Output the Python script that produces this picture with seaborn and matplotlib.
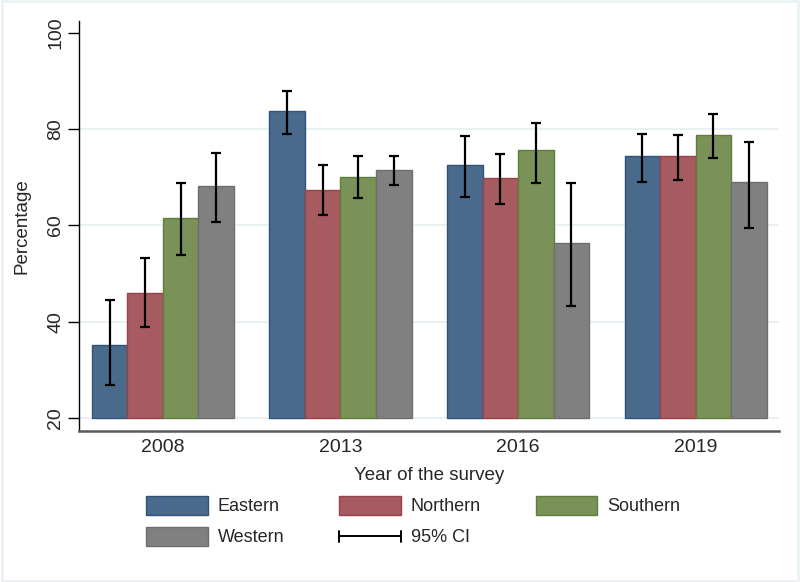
import numpy as np
import pandas as pd
import matplotlib
matplotlib.use("Agg")
import matplotlib.pyplot as plt
import seaborn as sns
from matplotlib.patches import Patch
from matplotlib.lines import Line2D
from matplotlib.legend_handler import HandlerBase

years = ["2008", "2013", "2016", "2019"]
regions = ["Eastern", "Northern", "Southern", "Western"]
pct = {
    "Eastern":  [35.2, 83.8, 72.6, 74.3],
    "Northern": [45.9, 67.4, 69.8, 74.5],
    "Southern": [61.6, 70.1, 75.6, 78.8],
    "Western":  [68.2, 71.4, 56.3, 69.0],
}
ci_low = {
    "Eastern":  [26.9, 78.9, 65.8, 69.1],
    "Northern": [39.0, 62.1, 64.4, 69.5],
    "Southern": [53.9, 65.7, 68.9, 73.9],
    "Western":  [60.7, 68.4, 43.3, 59.4],
}
ci_high = {
    "Eastern":  [44.6, 87.9, 78.6, 79.0],
    "Northern": [53.2, 72.5, 74.8, 78.8],
    "Southern": [68.9, 74.5, 81.3, 83.1],
    "Western":  [75.0, 74.5, 68.7, 77.4],
}
colors = ["#4a6a8b", "#a55b60", "#7a9157", "#808080"]
edge_colors = ["#2f5378", "#9a4048", "#5f7d3c", "#6e6e6e"]
yticks = [20, 40, 60, 80, 100]

rows = []
for r in regions:
    for i, y in enumerate(years):
        rows.append(dict(year=y, region=r, pct=pct[r][i],
                         lo=ci_low[r][i], hi=ci_high[r][i]))
df = pd.DataFrame(rows)

sns.set_style("white")
plt.rcParams["font.family"] = ["Liberation Sans", "DejaVu Sans"]

fig = plt.figure(figsize=(8.0, 5.82), dpi=100, facecolor="white")
ax = fig.add_axes([0.0991, 0.26, 0.875, 0.7046])

sns.barplot(data=df, x="year", y="pct", hue="region", order=years,
            hue_order=regions, palette=colors, errorbar=None, width=0.8,
            dodge=True, saturation=1, legend=False, ax=ax, linewidth=1)

base = 20
bars = [p for p in ax.patches]
k = 0
for ri, r in enumerate(regions):
    for yi, y in enumerate(years):
        p = bars[k]
        p.set_y(base)
        p.set_height(p.get_height() - base)
        p.set_edgecolor(edge_colors[ri])
        p.set_zorder(2)
        xc = p.get_x() + p.get_width() / 2
        v = pct[r][yi]
        ax.errorbar(xc, v, yerr=[[v - ci_low[r][yi]], [ci_high[r][yi] - v]],
                    fmt="none", ecolor="black", elinewidth=1.6, capsize=3.6,
                    capthick=1.6, zorder=3)
        k += 1

ax.set_ylim(17.4, 102.5)
ax.set_xlim(-0.471, 3.471)
ax.set_yticks(yticks)
ax.set_yticklabels([str(t) for t in yticks], rotation=90, va="center",
                   fontsize=14)
ax.tick_params(axis="y", length=8, width=1, color="black", pad=3, left=True)
ax.tick_params(axis="x", length=0, pad=6, labelsize=14)
for t in yticks[:-1]:
    ax.axhline(t, color="#e6eff1", lw=1.2, zorder=0)

for s in ["top", "right"]:
    ax.spines[s].set_visible(False)
ax.spines["left"].set_color("black")
ax.spines["left"].set_linewidth(1)
ax.spines["bottom"].set_color("#5a5a5a")
ax.spines["bottom"].set_linewidth(1.8)

ax.set_xlabel("Year of the survey", fontsize=13.5, labelpad=8)
ax.set_ylabel("Percentage", fontsize=13.5, labelpad=12)


class CIHandle:
    pass


class HandlerCI(HandlerBase):
    def create_artists(self, legend, orig_handle, xdescent, ydescent,
                       width, height, fontsize, trans):
        yc = height / 2 - ydescent
        x0, x1 = -xdescent, width - xdescent
        h = height * 0.28
        main = Line2D([x0, x1], [yc, yc], color="black", lw=1.4,
                      transform=trans)
        c0 = Line2D([x0, x0], [yc - h, yc + h], color="black", lw=1.4,
                    transform=trans)
        c1 = Line2D([x1, x1], [yc - h, yc + h], color="black", lw=1.4,
                    transform=trans)
        return [main, c0, c1]


handles = [Patch(facecolor=colors[i], edgecolor=edge_colors[i], label=regions[i])
           for i in range(4)]
ci_handle = CIHandle()
order = [handles[0], handles[3], handles[1], ci_handle, handles[2]]
labels = ["Eastern", "Western", "Northern", "95% CI", "Southern"]
leg = fig.legend(handles=order, labels=labels,
                 handler_map={CIHandle: HandlerCI()},
                 loc="upper left", bbox_to_anchor=(0.183, 0.148),
                 ncol=3, frameon=False, fontsize=13, handlelength=3.4,
                 handleheight=1.25, handletextpad=0.55, columnspacing=3.05,
                 labelspacing=0.62, borderaxespad=0, borderpad=0)

fig.patches.append(plt.Rectangle((0.002, 0.002), 0.996, 0.996,
                                 transform=fig.transFigure, fill=False,
                                 edgecolor="#eaf2f3", lw=2))
fig.savefig("out.png", dpi=100, facecolor="white")
